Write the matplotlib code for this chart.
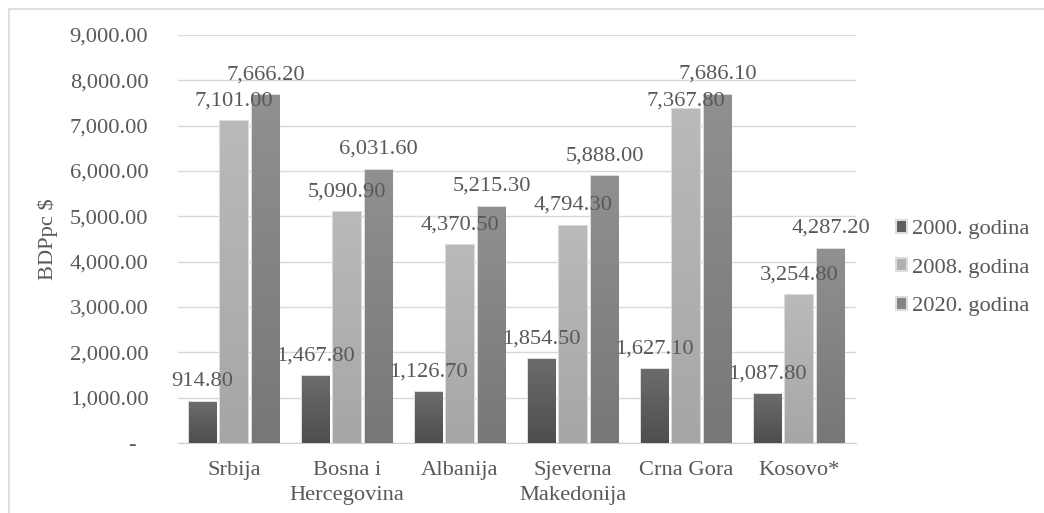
import matplotlib.pyplot as plt
import numpy as np
from matplotlib.patches import Rectangle
from matplotlib.ticker import FuncFormatter
from matplotlib.colors import LinearSegmentedColormap

plt.rcParams["font.family"] = ["Liberation Serif", "DejaVu Serif"]

countries = ["Srbija", "Bosna i\nHercegovina", "Albanija", "Sjeverna\nMakedonija",
             "Crna Gora", "Kosovo*"]
gdp_2000 = [914.80, 1467.80, 1126.70, 1854.50, 1627.10, 1087.80]
gdp_2008 = [7101.00, 5090.90, 4370.50, 4794.30, 7367.80, 3254.80]
gdp_2020 = [7666.20, 6031.60, 5215.30, 5888.00, 7686.10, 4287.20]
series = [("2000. godina", gdp_2000), ("2008. godina", gdp_2008), ("2020. godina", gdp_2020)]

# (bottom colour, top colour) of the gradient fill
shades = [("#4e4e4e", "#6c6c6c"), ("#a6a6a6", "#bababa"), ("#777777", "#909090")]
txt = "#595959"
fs = 16.2

W, H = 1044, 513
fig = plt.figure(figsize=(W / 100, H / 100), dpi=100)
ax = fig.add_axes([177.5 / W, 70 / H, 678 / W, 408 / H])

# light frame around the chart area
fig.patches.append(Rectangle((9 / W, -0.1), 1.2, 1.1 - 9 / H, transform=fig.transFigure,
                             fill=False, edgecolor="#d9d9d9", lw=1.2))

x = np.arange(len(countries))
width = 0.24
step = 0.28
grad = np.linspace(0, 1, 100).reshape(-1, 1)

# label nudged down in the original (Crna Gora, 2008)
label_offset = {(1, 4): 6}

for i, (name, vals) in enumerate(series):
    lo, hi = shades[i]
    cmap = LinearSegmentedColormap.from_list(f"g{i}", [lo, hi])
    pos = x + (i - 1) * step
    bars = ax.bar(pos, vals, width, color=cmap(0.5), label=name,
                  edgecolor="#dcdcdc", linewidth=1.5, zorder=2)
    for j, (b, v) in enumerate(zip(bars, vals)):
        bx, bw = b.get_x(), b.get_width()
        im = ax.imshow(grad, cmap=cmap, origin="lower", aspect="auto",
                       extent=[bx, bx + bw, 0, v], zorder=3)
        im.set_clip_path(b)
        ax.annotate(f"{v:,.2f}", (bx + bw / 2, v), xytext=(0, label_offset.get((i, j), 14.5)),
                    textcoords="offset points", ha="center", va="center",
                    fontsize=fs, color=txt, zorder=5)

ax.set_xlim(-0.5, len(countries) - 0.5)
ax.set_ylim(0, 9000)
ax.set_yticks(np.arange(0, 9001, 1000))
ax.yaxis.set_major_formatter(FuncFormatter(lambda v, p: "-  " if v == 0 else f"{v:,.2f}"))
ax.set_xticks(x)
ax.set_xticklabels(countries, linespacing=1.4)
ax.tick_params(axis="y", length=0, pad=21, labelsize=fs, labelcolor=txt)
ax.tick_params(axis="x", length=0, pad=13, labelsize=fs, labelcolor=txt)
ax.grid(axis="y", color="#d9d9d9", lw=1.0, zorder=0)
ax.set_axisbelow(True)
for s in ["top", "right", "left"]:
    ax.spines[s].set_visible(False)
ax.spines["bottom"].set_color("#d0d0d0")
ax.set_ylabel("BDPpc $", fontsize=fs, color=txt)
ax.yaxis.set_label_coords(-0.176, 0.5)

ax.legend(loc="center left", bbox_to_anchor=(896 / W, 1 - 268 / H), bbox_transform=fig.transFigure,
          frameon=False, fontsize=fs, labelcolor=txt, handlelength=0.5, handleheight=0.5,
          handletextpad=0.2, labelspacing=0.85, borderaxespad=0, borderpad=0)

fig.savefig("out.png", dpi=100)
